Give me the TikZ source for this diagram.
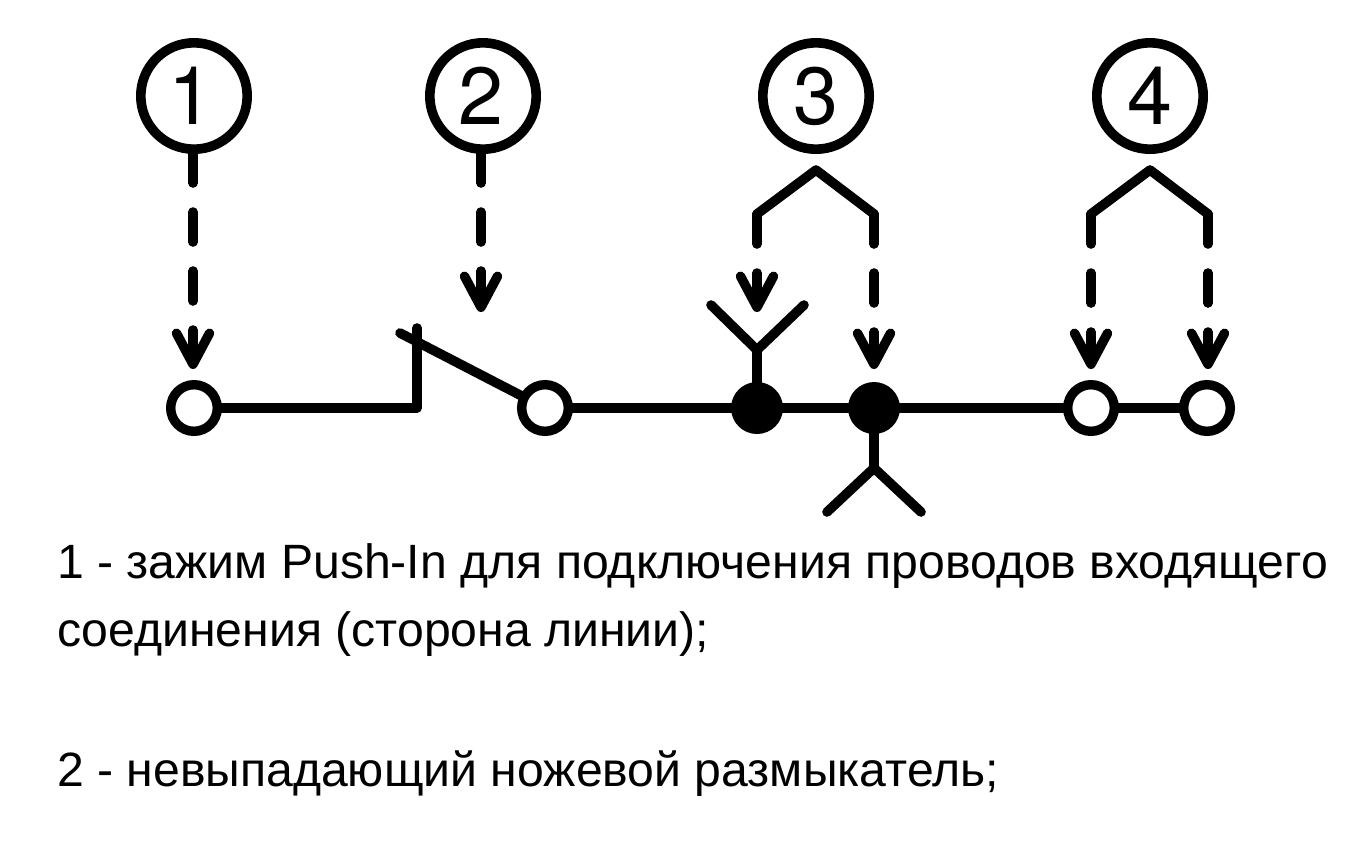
\documentclass[tikz,border=0pt]{standalone}
\usepackage{fontspec}
\setmainfont{Liberation Sans}
\newfontfamily\digitfont{TeX Gyre Heros}
\usetikzlibrary{arrows.meta}
\tikzset{
  wire/.style={line width=9.6pt,line cap=round,line join=round,black},
  ptr/.style={wire,-{Straight Barb[length=31pt,width=33pt,line width=9.5pt,round]}},
  longdash/.style={dash pattern=on 33.5pt off 29pt on 30pt off 29pt on 30pt off 29pt on 80pt},
  legdash/.style={dash pattern=on 30pt off 29pt on 30pt off 29pt on 80pt},
  shortdash/.style={dash pattern=on 30pt off 29pt on 80pt},
  bignum/.style={circle,draw=black,line width=9.6pt,fill=white,minimum size=106.4pt,inner sep=0pt,outer sep=0pt,font=\digitfont\fontsize{81}{81}\selectfont},
  openterm/.style={circle,draw=black,line width=9.4pt,fill=white,minimum size=46.6pt,inner sep=0pt,outer sep=0pt},
  solidterm/.style={circle,fill=black,minimum size=52pt,inner sep=0pt,outer sep=0pt},
  legend/.style={anchor=base west,inner sep=0pt,font=\fontsize{48.15}{48.15}\selectfont}
}
\begin{document}
\begin{tikzpicture}[x=1pt,y=-1pt]
\useasboundingbox (0,0) rectangle (1369,863);
% junction points
\coordinate (corner) at (417,408);
\coordinate (post) at (417,328);
\coordinate (bladeend) at (400,333);
\coordinate (ajoint) at (757,350);
\coordinate (aleft) at (711,305);
\coordinate (aright) at (804,305);
\coordinate (bjoint) at (874,468);
\coordinate (bleft) at (827,512);
\coordinate (bright) at (921,512);
\coordinate (apexc) at (816,170);
\coordinate (shc1) at (757,214);
\coordinate (shc2) at (874,214);
\coordinate (apexd) at (1150,170);
\coordinate (shd1) at (1091,214);
\coordinate (shd2) at (1208,214);
\coordinate (tip1) at (193,369);
\coordinate (tip2) at (481,312);
\coordinate (tip3) at (757,312);
\coordinate (tip4) at (874,369);
\coordinate (tip5) at (1091,369);
\coordinate (tip6) at (1208,369);
% terminals positions
\coordinate (p1) at (194,408);
\coordinate (p2) at (545,408);
\coordinate (p3) at (757,408);
\coordinate (p4) at (874,408);
\coordinate (p5) at (1091,408);
\coordinate (p6) at (1207,408);
% wires under the terminals
\draw[wire] (p1) -- (corner) -- (post);
\draw[wire] (bladeend) -- (p2);
\draw[wire] (p2) -- (p6);
\draw[wire] (p3) -- (ajoint);
\draw[wire] (aleft) -- (ajoint) -- (aright);
\draw[wire] (p4) -- (bjoint);
\draw[wire] (bleft) -- (bjoint) -- (bright);
% terminals
\node[openterm] (t1) at (p1) {};
\node[openterm] (t2) at (p2) {};
\node[solidterm] (t3) at (p3) {};
\node[solidterm] (t4) at (p4) {};
\node[openterm] (t5) at (p5) {};
\node[openterm] (t6) at (p6) {};
% numbered circles
\node[bignum] (n1) at (194,96) {\kern-6pt 1};
\node[bignum] (n2) at (483,96) {\kern-4pt 2};
\node[bignum] (n3) at (816,96) {3};
\node[bignum] (n4) at (1150,96) {4};
% pointers
\draw[ptr,longdash] (193,149.5) -- (tip1);
\draw[ptr,dash pattern=on 33.5pt off 29pt on 30pt off 29pt on 80pt] (481,149.5) -- (tip2);
\draw[wire] (shc1) -- (apexc) -- (shc2);
\draw[wire] (shd1) -- (apexd) -- (shd2);
\draw[ptr,shortdash] (shc1) -- (tip3);
\draw[ptr,legdash] (shc2) -- (tip4);
\draw[ptr,legdash] (shd1) -- (tip5);
\draw[ptr,legdash] (shd2) -- (tip6);
% legend
\node[legend] (l1) at (57,578) {1 - зажим Push-In для подключения проводов входящего};
\node[legend] (l2) at (57,646) {соединения (сторона линии);};
\node[legend] (l3) at (57,786) {2 - невыпадающий ножевой размыкатель;};
\end{tikzpicture}
\end{document}
